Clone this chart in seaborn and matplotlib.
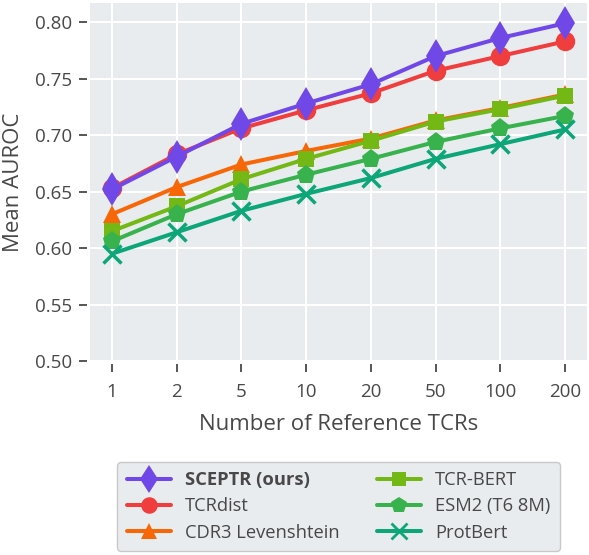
import matplotlib
matplotlib.use("Agg")
from matplotlib import pyplot as plt
from matplotlib.lines import Line2D
import pandas as pd
import seaborn as sns

num_refs = ["1", "2", "5", "10", "20", "50", "100", "200"]

sceptr = [0.652, 0.681, 0.710, 0.728, 0.745, 0.770, 0.786, 0.799]
tcrdist = [0.653, 0.683, 0.706, 0.722, 0.737, 0.757, 0.770, 0.783]
cdr3_lev = [0.630, 0.654, 0.674, 0.686, 0.697, 0.713, 0.724, 0.736]
tcr_bert = [0.615, 0.637, 0.661, 0.679, 0.695, 0.712, 0.723, 0.735]
esm2 = [0.606, 0.630, 0.650, 0.665, 0.679, 0.694, 0.706, 0.717]
protbert = [0.595, 0.614, 0.633, 0.648, 0.662, 0.679, 0.692, 0.705]

methods = ["SCEPTR (ours)", "TCRdist", "CDR3 Levenshtein", "TCR-BERT", "ESM2 (T6 8M)", "ProtBert"]
values = [sceptr, tcrdist, cdr3_lev, tcr_bert, esm2, protbert]
colors = ["#7048e8", "#f03e3e", "#f76707", "#74b816", "#37b24d", "#0ca678"]
markers = ["d", "o", "^", "s", "p", "x"]
msizes = [17, 14, 13, 12, 14, 13]
zorders = [8, 3, 4, 5, 6, 7]

text_col = "#484848"

sns.set_theme(style="darkgrid", rc={
    "axes.facecolor": "#e9ecef",
    "grid.color": "white",
    "grid.linewidth": 1.5,
    "text.color": text_col,
    "axes.labelcolor": text_col,
    "xtick.color": text_col,
    "ytick.color": text_col,
})
plt.rcParams["font.family"] = ["Open Sans", "DejaVu Sans"]

fig = plt.figure(figsize=(5.89, 5.55), dpi=100)
ax = fig.add_axes([90 / 589, 1 - 361 / 555, 497 / 589, 358 / 555])

df = pd.DataFrame({"refs": num_refs})
handles = []
for name, vals, c, m, ms, z in zip(methods, values, colors, markers, msizes, zorders):
    df[name] = vals
    sns.lineplot(data=df, x="refs", y=name, ax=ax, color=c, marker=m, markersize=ms,
                 markeredgewidth=2.5 if m == "x" else 0, markeredgecolor=c,
                 linewidth=2.9, sort=False, zorder=z)
    handles.append(Line2D([], [], color=c, marker=m, markersize=ms * 0.85,
                          markeredgewidth=2 if m == "x" else 0, markeredgecolor=c,
                          linewidth=2.9, label=name))

ax.set_xlim(-0.34, 7.34)
ax.set_ylim(0.5, 0.817)
ax.set_yticks([0.50, 0.55, 0.60, 0.65, 0.70, 0.75, 0.80])
ax.set_yticklabels([f"{v:.2f}" for v in ax.get_yticks()])
for s in ax.spines.values():
    s.set_visible(False)
ax.spines["left"].set_position(("outward", 2.5))
ax.spines["bottom"].set_position(("outward", 2.5))
ax.tick_params(axis="y", which="major", length=5.5, width=1.3, direction="out",
               labelsize=13.5, pad=5, left=True, color=text_col)
ax.tick_params(axis="x", which="major", length=5.5, width=1.3, direction="out",
               labelsize=13.5, pad=8, bottom=True, color=text_col)
ax.set_xlabel("Number of Reference TCRs", fontsize=16, labelpad=9)
ax.set_ylabel("Mean AUROC", fontsize=16, labelpad=8)

leg = ax.legend(handles=handles, loc="upper center", bbox_to_anchor=(0.5, -0.282), ncol=2,
                fontsize=13.2, frameon=True, facecolor="#e9ecef", edgecolor="#c8c8c8",
                handlelength=2.4, columnspacing=2.0, labelspacing=0.45, borderpad=0.5,
                borderaxespad=0, fancybox=True, framealpha=1)
leg.get_texts()[0].set_fontweight("bold")

fig.savefig("out.png", dpi=100)
